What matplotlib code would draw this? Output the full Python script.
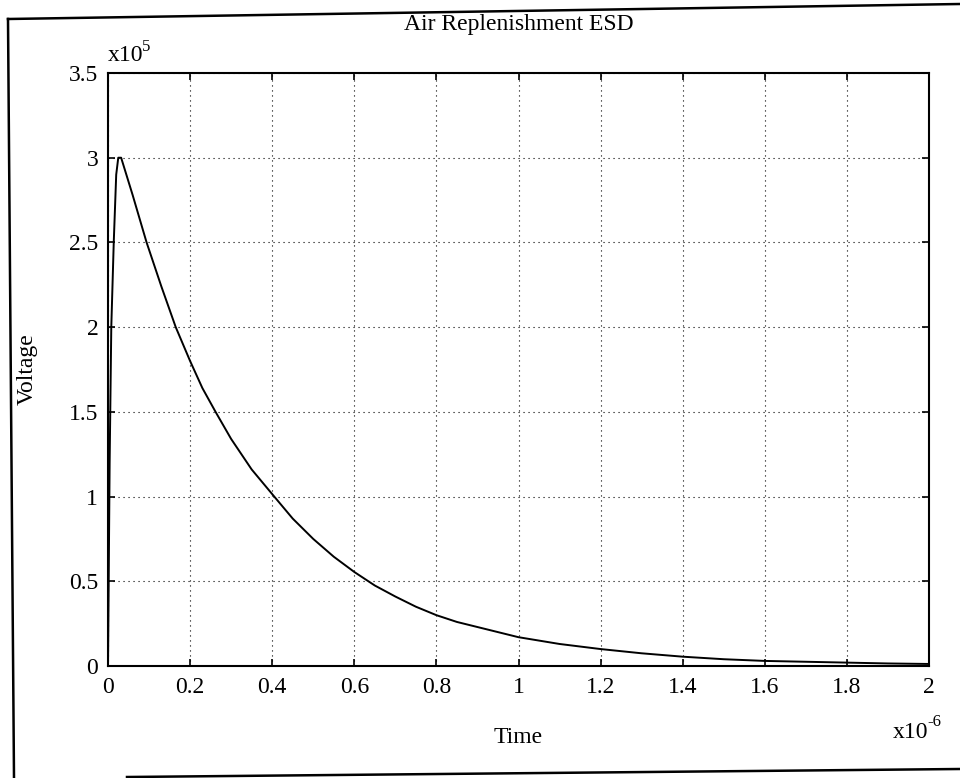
import matplotlib
matplotlib.use("Agg")
import matplotlib.pyplot as plt
from matplotlib.lines import Line2D

# time in units of 1e-6 s, voltage in units of 1e5 V
t_us = [0, 0.004, 0.008, 0.014, 0.02, 0.025, 0.032, 0.06, 0.094, 0.13, 0.165,
        0.2, 0.23, 0.262, 0.3, 0.35, 0.405, 0.45, 0.5, 0.55, 0.6, 0.65, 0.7,
        0.75, 0.8, 0.85, 0.9, 0.95, 1.0, 1.1, 1.2, 1.3, 1.4, 1.5, 1.6, 1.7,
        1.8, 1.9, 2.0]
v_e5 = [0, 1.2, 2.0, 2.5, 2.9, 3.0, 3.0, 2.78, 2.5, 2.24, 2.0,
        1.8, 1.64, 1.5, 1.34, 1.16, 1.0, 0.87, 0.75, 0.645, 0.555, 0.475,
        0.41, 0.35, 0.30, 0.26, 0.23, 0.20, 0.17, 0.13, 0.10, 0.075, 0.055,
        0.04, 0.03, 0.025, 0.02, 0.015, 0.012]

x_ticks = [0, 0.2, 0.4, 0.6, 0.8, 1, 1.2, 1.4, 1.6, 1.8, 2]
y_ticks = [0, 0.5, 1, 1.5, 2, 2.5, 3, 3.5]

plt.rcParams["font.family"] = ["Liberation Serif", "DejaVu Serif"]
FS = 17

fig = plt.figure(figsize=(9.6, 7.78), dpi=100)
W, H = 960, 778
ax = fig.add_axes([108 / W, 1 - 666 / H, (929 - 108) / W, (666 - 73) / H])

ax.plot(t_us, v_e5, color="black", linewidth=1.4)

ax.set_xlim(0, 2)
ax.set_ylim(0, 3.5)
ax.set_xticks(x_ticks)
ax.set_yticks(y_ticks)
ax.set_xticklabels(["%g" % v for v in x_ticks])
ax.set_yticklabels(["%g" % v for v in y_ticks])
ax.tick_params(direction="in", length=5, width=1.2, top=True, right=True,
               labelsize=FS)
ax.tick_params(axis="x", pad=8)
ax.tick_params(axis="y", pad=7)
ax.grid(True, color="black", linestyle=(0, (1, 3.5)), linewidth=0.8)
for s in ax.spines.values():
    s.set_linewidth(1.5)

ax.set_title("Air Replenishment ESD", fontsize=FS, pad=31)
ax.set_xlabel("Time", fontsize=FS)
ax.set_ylabel("Voltage", fontsize=FS)
ax.xaxis.set_label_coords(0.5, -0.103)
ax.yaxis.set_label_coords(-0.086, 0.5)

# scale factors, written as x10 with a small raised exponent
ax.text(0.0, 1.012, "x10", transform=ax.transAxes, fontsize=FS,
        ha="left", va="bottom")
ax.annotate("5", xy=(0.0, 1.012), xycoords="axes fraction",
            xytext=(24.5, 8), textcoords="offset points", fontsize=12,
            ha="left", va="bottom")
fig.text(928 / W, 1 - 738 / H, "x10", fontsize=FS, ha="right",
         va="baseline")
fig.text(927 / W, 1 - 726 / H, "-6", fontsize=12, ha="left",
         va="baseline")

# outer border of the page frame
def px(x, y):
    return x / W, 1 - y / H

for (x0, y0), (x1, y1) in [((8, 19), (960, 4)), ((8, 19), (14, 778)),
                           ((127, 777), (960, 769))]:
    (a0, b0), (a1, b1) = px(x0, y0), px(x1, y1)
    fig.add_artist(Line2D([a0, a1], [b0, b1], color="black", linewidth=1.8,
                          transform=fig.transFigure))

fig.savefig("out.png", dpi=100)
